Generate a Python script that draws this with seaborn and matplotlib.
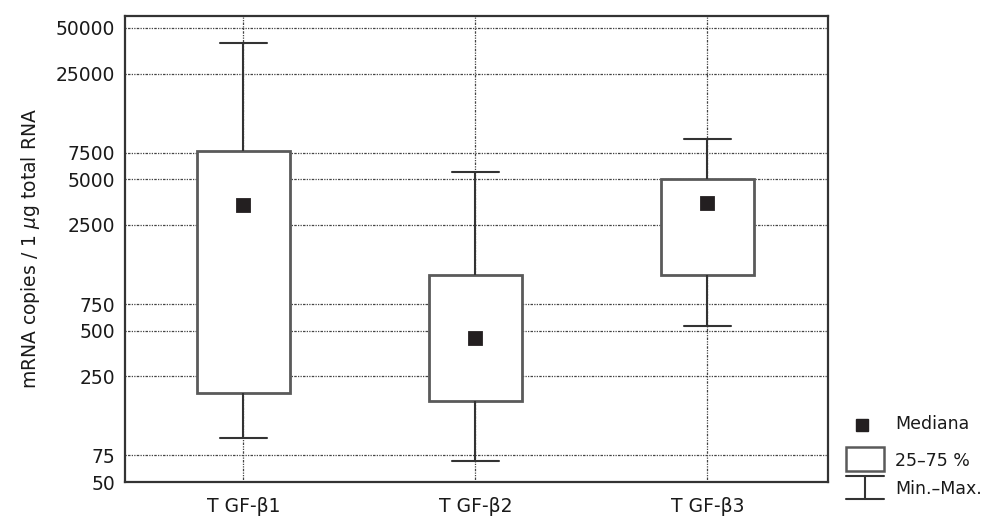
import matplotlib
matplotlib.use('Agg')
import matplotlib.pyplot as plt
import seaborn as sns
import pandas as pd
from matplotlib.ticker import FixedLocator, FixedFormatter, NullLocator
from matplotlib.patches import Rectangle
from matplotlib.lines import Line2D

# ---- data ----
categories = ['T GF-β1', 'T GF-β2', 'T GF-β3']
mins = [98, 69, 534]
q1 = [195, 171, 1170]
medians = [3400, 447, 3500]
q3 = [7700, 1170, 5050]
maxs = [40000, 5600, 9200]
yticks = [50, 75, 250, 500, 750, 2500, 5000, 7500, 25000, 50000]
ytick_labels = ['50', '75', '250', '500', '750', '2500', '5000', '7500', '25000', '50000']
legend_labels = ['Mediana', '25–75 %', 'Min.–Max.']

sns.set_style('white')
plt.rcParams['font.family'] = ['DejaVu Sans']
plt.rcParams['mathtext.fontset'] = 'dejavusans'

# five-number summary per group -> 5 points, quartiles fall exactly on them
rows = []
for c, a, b, m, d, e in zip(categories, mins, q1, medians, q3, maxs):
    for v in (a, b, m, d, e):
        rows.append({'group': c, 'value': v})
df = pd.DataFrame(rows)

fig = plt.figure(figsize=(9.85, 5.26), dpi=100)
ax = fig.add_axes([125 / 985, 44 / 526, 703 / 985, 466 / 526])
ax.set_yscale('log')

sns.boxplot(data=df, x='group', y='value', order=categories, whis=(0, 100),
            width=0.4, color='white', linecolor='#4a4a4a', linewidth=1.6,
            medianprops=dict(linewidth=0), ax=ax,
            whiskerprops=dict(color='#333333', linewidth=1.5),
            capprops=dict(color='#333333', linewidth=1.5),
            boxprops=dict(facecolor='white', edgecolor='#5a5a5a', linewidth=2.0))

sns.pointplot(x=categories, y=medians, order=categories, color='#231f20',
              markers='s', linestyle='none', errorbar=None, markersize=9,
              ax=ax, zorder=6)

ax.set_xlim(-0.51, 2.52)
ax.set_ylim(50, 60000)
ax.yaxis.set_major_locator(FixedLocator(yticks))
ax.yaxis.set_major_formatter(FixedFormatter(ytick_labels))
ax.yaxis.set_minor_locator(NullLocator())

ax.set_axisbelow(True)
grid_style = dict(linestyle=(0, (1.0, 1.0, 2.0, 1.0, 1.0, 1.0)), color='#444444', linewidth=0.9)
ax.yaxis.grid(True, **grid_style)
ax.xaxis.grid(True, **grid_style)

for s in ax.spines.values():
    s.set_visible(True)
    s.set_color('#333333')
    s.set_linewidth(1.6)

ax.tick_params(axis='y', which='major', length=3, direction='in', width=1,
               pad=7, labelsize=13.5, colors='#1a1a1a')
ax.tick_params(axis='x', length=0, pad=11, labelsize=13.5, colors='#1a1a1a')
ax.set_xlabel('')
ax.set_ylabel(r'mRNA copies / 1 $\mu$g total RNA', fontsize=13.5,
              color='#1a1a1a', labelpad=10)

# ---- legend drawn in figure pixels ----
W, H = 985, 526
def fx(x): return x / W
def fy(y): return 1 - y / H

fig.add_artist(Line2D([fx(862)], [fy(425)], marker='s', markersize=9,
                      color='#231f20', linestyle='none', transform=fig.transFigure))
fig.add_artist(Rectangle((fx(846), fy(471)), 38 / W, 24 / H, facecolor='white',
                         edgecolor='#5a5a5a', linewidth=1.8, transform=fig.transFigure))
for xs, ys in [([846, 884], [476, 476]), ([865, 865], [476, 499]), ([846, 884], [499, 499])]:
    fig.add_artist(Line2D([fx(v) for v in xs], [fy(v) for v in ys], color='#333333',
                          linewidth=1.5, transform=fig.transFigure))
for lab, y in zip(legend_labels, [424, 461, 489]):
    fig.text(fx(895), fy(y), lab, fontsize=12.5, va='center', ha='left', color='#1a1a1a')

fig.savefig('out.png', dpi=100)
